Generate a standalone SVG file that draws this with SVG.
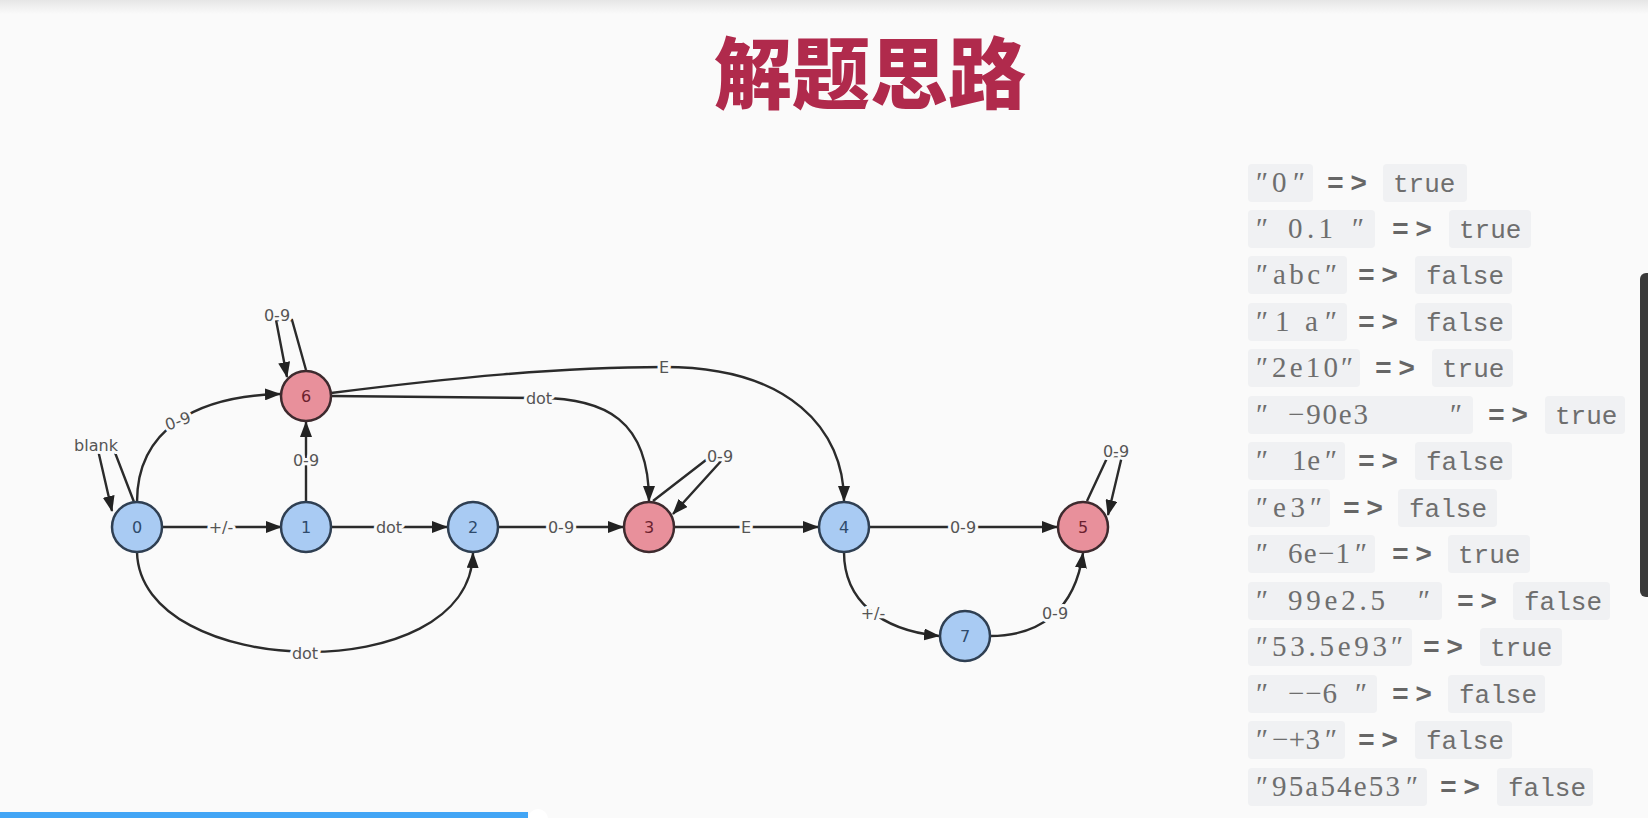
<svg xmlns="http://www.w3.org/2000/svg" width="1648" height="818" viewBox="0 0 1648 818">
  <defs>
    <marker id="arrow" viewBox="0 0 16 12" refX="15" refY="6" markerWidth="16" markerHeight="12" markerUnits="userSpaceOnUse" orient="auto">
      <path d="M0,0 L16,6 L0,12 Z" fill="#222"/>
    </marker>
    <linearGradient id="topShade" x1="0" y1="0" x2="0" y2="1">
      <stop offset="0" stop-color="#e6e6e6"/>
      <stop offset="1" stop-color="#fafafa"/>
    </linearGradient>
    <style>
      .edge { fill: none; stroke: #2b2b2b; stroke-width: 2.4; marker-end: url(#arrow); }
      .elabel { font-family: "DejaVu Sans", sans-serif; font-size: 16px; fill: #555; text-anchor: middle; dominant-baseline: central; paint-order: stroke; stroke: #fafafa; stroke-width: 6px; stroke-linejoin: round; }
      .blue circle { fill: #a9cbf3; stroke: #2f3f52; stroke-width: 2.5; }
      .red circle { fill: #e8909b; stroke: #3d2a2e; stroke-width: 2.5; }
      .num { font-family: "DejaVu Sans", sans-serif; font-size: 16px; text-anchor: middle; dominant-baseline: central; }
      .blue .num { fill: #2e4a6b; }
      .red .num { fill: #6b1f2e; }
      .title { font-family: "Noto Sans CJK SC", sans-serif; font-size: 78px; font-weight: 900; fill: #b02a4c; text-anchor: middle; }
      .code { fill: #f0f1f3; }
      .str { font-family: "Liberation Serif", "DejaVu Serif", serif; font-size: 29px; fill: #6e6e6e; }
      .op { font-family: "Liberation Mono", monospace; font-size: 28px; font-weight: bold; fill: #666; }
      .val { font-family: "Liberation Mono", monospace; font-size: 26px; fill: #6e6e6e; }
    </style>
  </defs>

  <!-- page -->
  <rect width="1648" height="818" fill="#fafafa"/>
  <rect width="1648" height="14" fill="url(#topShade)"/>

  <text class="title" x="870" y="103">解题思路</text>

  <!-- transitions -->
  <g id="connectors">
    <path class="edge" d="M162,527 L281,527"/>
    <path class="edge" d="M331,527 L447,527"/>
    <path class="edge" d="M498,527 L623,527"/>
    <path class="edge" d="M674,527 L818,527"/>
    <path class="edge" d="M869,527 L1057,527"/>
    <path class="edge" d="M306,502 L306,422"/>
    <path class="edge" d="M137,502 C137,430 195,396 280,394"/>
    <path class="edge" d="M331,396 C420,397 480,398 539,398 C605,398 649,420 649,501"/>
    <path class="edge" d="M331,393 C450,378 560,367 664,367 C790,367 844,430 844,501"/>
    <path class="edge" d="M137,552 C140,680 470,690 473,553"/>
    <path class="edge" d="M844,552 C844,600 880,630 939,636"/>
    <path class="edge" d="M990,636 C1040,636 1075,610 1083,553"/>
    <!-- self loops -->
    <path class="edge" d="M134,502 L114,450 L98,450 L112,511"/>
    <path class="edge" d="M306,370 L292,320 L276,320 L287,377"/>
    <path class="edge" d="M653,501 L706,460 L722,460 L673,514"/>
    <path class="edge" d="M1087,501 L1108,456 L1122,456 L1108,515"/>

    <text class="elabel" x="221" y="527">+/-</text>
    <text class="elabel" x="389" y="527">dot</text>
    <text class="elabel" x="561" y="527">0-9</text>
    <text class="elabel" x="746" y="527">E</text>
    <text class="elabel" x="963" y="527">0-9</text>
    <text class="elabel" x="306" y="460">0-9</text>
    <text class="elabel" x="178" y="421" transform="rotate(-20 178 421)">0-9</text>
    <text class="elabel" x="539" y="398">dot</text>
    <text class="elabel" x="664" y="367">E</text>
    <text class="elabel" x="305" y="653">dot</text>
    <text class="elabel" x="873" y="613">+/-</text>
    <text class="elabel" x="1055" y="613">0-9</text>
    <text class="elabel" x="96" y="445">blank</text>
    <text class="elabel" x="277" y="315">0-9</text>
    <text class="elabel" x="720" y="456">0-9</text>
    <text class="elabel" x="1116" y="451">0-9</text>
  </g>

  <!-- states -->
  <g id="node-0" class="blue"><circle cx="137" cy="527" r="25"/><text class="num" x="137" y="527">0</text></g>
  <g id="node-1" class="blue"><circle cx="306" cy="527" r="25"/><text class="num" x="306" y="527">1</text></g>
  <g id="node-2" class="blue"><circle cx="473" cy="527" r="25"/><text class="num" x="473" y="527">2</text></g>
  <g id="node-3" class="red"><circle cx="649" cy="527" r="25"/><text class="num" x="649" y="527">3</text></g>
  <g id="node-4" class="blue"><circle cx="844" cy="527" r="25"/><text class="num" x="844" y="527">4</text></g>
  <g id="node-5" class="red"><circle cx="1083" cy="527" r="25"/><text class="num" x="1083" y="527">5</text></g>
  <g id="node-6" class="red"><circle cx="306" cy="396" r="25"/><text class="num" x="306" y="396">6</text></g>
  <g id="node-7" class="blue"><circle cx="965" cy="636" r="25"/><text class="num" x="965" y="636">7</text></g>

  <!-- test cases -->
  <g id="cases">
    <!-- row 1 -->
    <rect class="code" x="1248" y="164" width="65" height="38" rx="4"/>
    <text class="str" y="192"><tspan x="1256">″</tspan><tspan x="1272" textLength="16">0</tspan><tspan x="1293">″</tspan></text>
    <text class="op" x="1327" y="192" textLength="40">=&gt;</text>
    <rect class="code" x="1383" y="164" width="84" height="38" rx="4"/>
    <text class="val" x="1393" y="192">true</text>

    <!-- row 2 -->
    <rect class="code" x="1248" y="210" width="127" height="38" rx="4"/>
    <text class="str" y="238"><tspan x="1256">″</tspan><tspan x="1288" textLength="45">0.1</tspan><tspan x="1352">″</tspan></text>
    <text class="op" x="1392" y="238" textLength="40">=&gt;</text>
    <rect class="code" x="1449" y="210" width="82" height="38" rx="4"/>
    <text class="val" x="1459" y="238">true</text>

    <!-- row 3 -->
    <rect class="code" x="1248" y="256" width="99" height="38" rx="4"/>
    <text class="str" y="284"><tspan x="1256">″</tspan><tspan x="1273" textLength="47">abc</tspan><tspan x="1325">″</tspan></text>
    <text class="op" x="1358" y="284" textLength="40">=&gt;</text>
    <rect class="code" x="1415" y="256" width="97" height="38" rx="4"/>
    <text class="val" x="1426" y="284">false</text>

    <!-- row 4 -->
    <rect class="code" x="1248" y="303" width="99" height="38" rx="4"/>
    <text class="str" y="331"><tspan x="1256">″</tspan><tspan x="1275">1</tspan><tspan x="1305">a</tspan><tspan x="1325">″</tspan></text>
    <text class="op" x="1358" y="331" textLength="40">=&gt;</text>
    <rect class="code" x="1415" y="303" width="97" height="38" rx="4"/>
    <text class="val" x="1426" y="331">false</text>

    <!-- row 5 -->
    <rect class="code" x="1248" y="349" width="112" height="38" rx="4"/>
    <text class="str" y="377"><tspan x="1256">″</tspan><tspan x="1272" textLength="66">2e10</tspan><tspan x="1341">″</tspan></text>
    <text class="op" x="1375" y="377" textLength="40">=&gt;</text>
    <rect class="code" x="1432" y="349" width="81" height="38" rx="4"/>
    <text class="val" x="1442" y="377">true</text>

    <!-- row 6 -->
    <rect class="code" x="1248" y="396" width="225" height="38" rx="4"/>
    <text class="str" y="424"><tspan x="1256">″</tspan><tspan x="1288" textLength="80">−90e3</tspan><tspan x="1450">″</tspan></text>
    <text class="op" x="1488" y="424" textLength="40">=&gt;</text>
    <rect class="code" x="1545" y="396" width="80" height="38" rx="4"/>
    <text class="val" x="1555" y="424">true</text>

    <!-- row 7 -->
    <rect class="code" x="1248" y="442" width="97" height="38" rx="4"/>
    <text class="str" y="470"><tspan x="1256">″</tspan><tspan x="1292" textLength="28">1e</tspan><tspan x="1325">″</tspan></text>
    <text class="op" x="1358" y="470" textLength="40">=&gt;</text>
    <rect class="code" x="1415" y="442" width="97" height="38" rx="4"/>
    <text class="val" x="1426" y="470">false</text>

    <!-- row 8 -->
    <rect class="code" x="1248" y="489" width="82" height="38" rx="4"/>
    <text class="str" y="517"><tspan x="1256">″</tspan><tspan x="1273" textLength="32">e3</tspan><tspan x="1310">″</tspan></text>
    <text class="op" x="1343" y="517" textLength="40">=&gt;</text>
    <rect class="code" x="1398" y="489" width="99" height="38" rx="4"/>
    <text class="val" x="1409" y="517">false</text>

    <!-- row 9 -->
    <rect class="code" x="1248" y="535" width="127" height="38" rx="4"/>
    <text class="str" y="563"><tspan x="1256">″</tspan><tspan x="1288" textLength="62">6e−1</tspan><tspan x="1355">″</tspan></text>
    <text class="op" x="1392" y="563" textLength="40">=&gt;</text>
    <rect class="code" x="1448" y="535" width="82" height="38" rx="4"/>
    <text class="val" x="1458" y="563">true</text>

    <!-- row 10 -->
    <rect class="code" x="1248" y="582" width="194" height="38" rx="4"/>
    <text class="str" y="610"><tspan x="1256">″</tspan><tspan x="1288" textLength="97">99e2.5</tspan><tspan x="1418">″</tspan></text>
    <text class="op" x="1457" y="610" textLength="40">=&gt;</text>
    <rect class="code" x="1513" y="582" width="97" height="38" rx="4"/>
    <text class="val" x="1524" y="610">false</text>

    <!-- row 11 -->
    <rect class="code" x="1248" y="628" width="164" height="38" rx="4"/>
    <text class="str" y="656"><tspan x="1256">″</tspan><tspan x="1272" textLength="115">53.5e93</tspan><tspan x="1391">″</tspan></text>
    <text class="op" x="1423" y="656" textLength="40">=&gt;</text>
    <rect class="code" x="1480" y="628" width="82" height="38" rx="4"/>
    <text class="val" x="1490" y="656">true</text>

    <!-- row 12 -->
    <rect class="code" x="1248" y="675" width="129" height="38" rx="4"/>
    <text class="str" y="703"><tspan x="1256">″</tspan><tspan x="1288" textLength="49">−−6</tspan><tspan x="1355">″</tspan></text>
    <text class="op" x="1392" y="703" textLength="40">=&gt;</text>
    <rect class="code" x="1448" y="675" width="97" height="38" rx="4"/>
    <text class="val" x="1459" y="703">false</text>

    <!-- row 13 -->
    <rect class="code" x="1248" y="721" width="97" height="38" rx="4"/>
    <text class="str" y="749"><tspan x="1256">″</tspan><tspan x="1272" textLength="48">−+3</tspan><tspan x="1325">″</tspan></text>
    <text class="op" x="1358" y="749" textLength="40">=&gt;</text>
    <rect class="code" x="1415" y="721" width="97" height="38" rx="4"/>
    <text class="val" x="1426" y="749">false</text>

    <!-- row 14 -->
    <rect class="code" x="1248" y="768" width="179" height="38" rx="4"/>
    <text class="str" y="796"><tspan x="1256">″</tspan><tspan x="1272" textLength="128">95a54e53</tspan><tspan x="1406">″</tspan></text>
    <text class="op" x="1440" y="796" textLength="40">=&gt;</text>
    <rect class="code" x="1497" y="768" width="96" height="38" rx="4"/>
    <text class="val" x="1508" y="796">false</text>
  </g>

  <!-- scrollbar and progress bar -->
  <rect x="1640" y="273" width="14" height="324" rx="6" fill="#3a3a3a"/>
  <rect x="0" y="812" width="528" height="6" fill="#42a5f5"/>
  <circle cx="538" cy="819" r="10" fill="#ffffff"/>
</svg>
